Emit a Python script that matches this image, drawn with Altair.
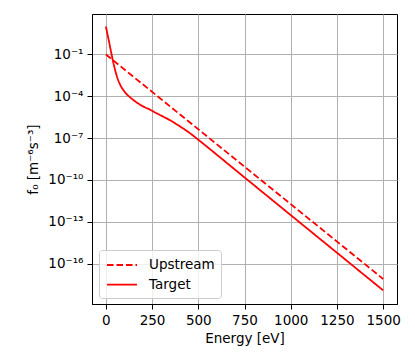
import altair as alt
import pandas as pd

# Target distribution
target_energy = [0, 15, 31, 45, 58, 73, 100, 145, 199, 237, 272, 344, 416, 460, 500, 750, 1000, 1250, 1500]
target_f = [10.0, 1.12, 0.1, 0.0141, 3.16e-3, 8.9e-4, 2.24e-4, 5.9e-5, 1.95e-5, 1.12e-5, 6.3e-6, 2.0e-6,
            5.1e-7, 2.0e-7, 7.6e-8, 1.51e-10, 3.0e-13, 6.0e-16, 1.2e-18]

# Upstream distribution (straight on log axis)
upstream_energy = [0, 1500]
upstream_f = [0.1, 7.9e-18]

series_names = ["Upstream", "Target"]
x_ticks = [0, 250, 500, 750, 1000, 1250, 1500]
y_ticks = [1e-1, 1e-4, 1e-7, 1e-10, 1e-13, 1e-16]
y_tick_labels = ["10⁻¹", "10⁻⁴", "10⁻⁷", "10⁻¹⁰", "10⁻¹³", "10⁻¹⁶"]
y_tick_exps = [-1, -4, -7, -10, -13, -16]

rows = []
for e, f in zip(upstream_energy, upstream_f):
    rows.append({"E": e, "f": f, "series": "Upstream", "order": 0})
for e, f in zip(target_energy, target_f):
    rows.append({"E": e, "f": f, "series": "Target", "order": 1})
df = pd.DataFrame(rows)

label_expr = "''"
for ex, lab in zip(reversed(y_tick_exps), reversed(y_tick_labels)):
    label_expr = f"round(log(datum.value)/LN10) == {ex} ? '{lab}' : ({label_expr})"

font = "DejaVu Sans"

chart = alt.Chart(df).mark_line(color="#ff0000", strokeWidth=1.8, clip=True, interpolate="monotone").encode(
    x=alt.X("E:Q", scale=alt.Scale(domain=[-75, 1575], nice=False, zero=False),
            axis=alt.Axis(values=x_ticks, title="Energy [eV]", format="d")),
    y=alt.Y("f:Q", scale=alt.Scale(type="log", domain=[10 ** -18.9, 10 ** 1.9], nice=False),
            axis=alt.Axis(values=y_ticks, title="f₀ [m⁻⁶s⁻³]", labelExpr=label_expr)),
    strokeDash=alt.StrokeDash(
        "series:N",
        scale=alt.Scale(domain=series_names, range=[[6.5, 3], [1, 0]]),
        legend=alt.Legend(
            title=None, orient="none", legendX=7, legendY=236,
            symbolType="M-1.875,0H1.875", symbolSize=256, symbolStrokeWidth=1.8,
            symbolStrokeColor="#ff0000", symbolOffset=8, labelFontSize=13.5, labelFont=font,
            labelColor="black", labelOffset=18, rowPadding=3.6, padding=6,
            fillColor="rgba(255,255,255,0.8)", strokeColor="#cccccc", cornerRadius=3,
        ),
    ),
    order="order:Q",
).properties(
    width=305, height=290,
    autosize=alt.AutoSizeParams(type="none"),
    padding={"left": 84, "top": 6, "right": 10, "bottom": 51},
).configure_view(
    stroke="black", strokeWidth=1
).configure_axis(
    grid=True, gridColor="#b0b0b0", gridWidth=1,
    domainColor="black", domainWidth=1,
    tickColor="black", tickWidth=1, tickSize=5,
    labelFont=font, labelFontSize=13.5, labelColor="black", labelPadding=4,
    titleFont=font, titleFontSize=13.5, titleFontWeight="normal", titleColor="black",
).configure_axisX(titlePadding=5).configure_axisY(titlePadding=7)

chart.save("out.html", embed_options={"renderer": "svg", "actions": False})
